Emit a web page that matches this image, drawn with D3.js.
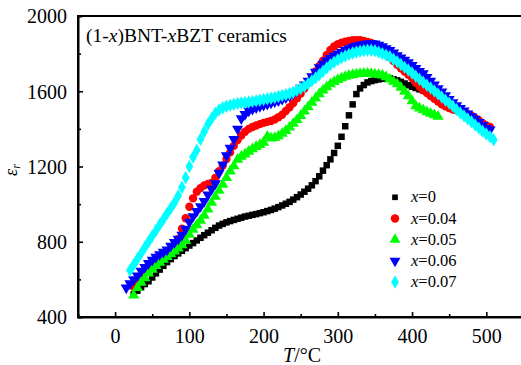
<!DOCTYPE html>
<html><head><meta charset="utf-8">
<script src="https://cdn.jsdelivr.net/npm/d3@7"></script>
<style>
html,body{margin:0;padding:0;background:#fff;}
svg{display:block;}
svg text{font-family:"Liberation Serif","Times New Roman",Tinos,Times,"DejaVu Serif","Noto Serif",serif;}
</style></head>
<body>
<svg id="chart" width="521" height="365"></svg>
<script>
const temps = [15,20,25,30,35,40,45,50,55,60,65,70,75,80,85,90,95,100,105,110,115,120,125,130,135,140,145,150,155,160,165,170,175,180,185,190,195,200,205,210,215,220,225,230,235,240,245,250,255,260,265,270,275,280,285,290,295,300,305,310,315,320,325,330,335,340,345,350,355,360,365,370,375,380,385,390,395,400,405,410,415,420,425,430,435,440,445,450,455,460,465,470,475,480,485,490,495,500,505,510];

const eps_x0 = [null,null,520,540,558,575,590,610,632,652,672,692,708,724,738,752,766,780,793,807,821,835,848,861,874,886,895,903,910,916,922,928,934,938,943,947,952,957,963,969,976,984,993,1002,1012,1024,1037,1051,1066,1082,1100,1122,1148,1178,1207,1238,1272,1310,1358,1414,1472,1530,1585,1615,1633,1647,1654,1659,1663,1667,1670,1668,1664,1658,1650,1641,1632,1624,1617,1610,1604,1598,null,null,null,null,null,null,null,null,null,null,null,null,null,null,null,null,null,null];

const eps_x004 = [null,null,560,590,618,648,674,695,710,722,734,745,760,783,815,870,925,986,1031,1066,1085,1100,1108,1113,1140,1175,1205,1240,1275,1310,1340,1365,1385,1400,1410,1418,1425,1432,1437,1442,1450,1462,1475,1495,1515,1537,1562,1588,1614,1643,1672,1705,1735,1763,1793,1820,1838,1850,1858,1864,1868,1871,1872,1871,1868,1863,1857,1849,1838,1825,1806,1782,1760,1740,1722,1705,1688,1670,1645,1625,1605,1590,1575,1560,1545,1530,1520,1510,1503,1498,1494,1490,1480,1470,1458,1445,1430,1418,1410,null];

const eps_x005 = [null,null,515,555,583,607,632,653,672,689,705,720,735,750,765,783,805,838,865,889,913,940,973,1008,1040,1072,1104,1140,1175,1203,1237,1253,1265,1280,1293,1305,1316,1328,1360,1350,1353,1362,1375,1390,1408,1428,1448,1470,1494,1517,1540,1563,1585,1605,1623,1638,1651,1661,1670,1678,1684,1688,1691,1693,1694,1694,1693,1690,1688,1685,1676,1664,1652,1638,1620,1598,1575,1548,1522,1510,1500,1490,1482,1474,1466,null,null,null,null,null,null,null,null,null,null,null,null,null,null,null];

const eps_x006 = [555,578,600,620,645,665,686,703,719,733,745,757,778,797,815,836,868,905,935,962,988,1015,1050,1080,1110,1165,1210,1258,1298,1345,1400,1455,1478,1496,1505,1513,1520,1526,1532,1538,1545,1551,1558,1566,1576,1588,1602,1617,1635,1655,1678,1703,1726,1745,1762,1776,1788,1798,1808,1818,1828,1836,1842,1846,1850,1852,1854,1852,1846,1838,1828,1818,1805,1790,1778,1766,1753,1738,1722,1707,1694,1675,1655,1635,1615,1597,1578,1558,1540,1524,1510,1497,1480,1466,1452,1436,1420,1404,1395,null];

const eps_x007 = [null,648,678,708,738,770,800,830,860,890,920,950,978,1008,1045,1090,1140,1200,1250,1287,1345,1385,1425,1455,1483,1500,1512,1520,1526,1531,1535,1538,1540,1543,1546,1549,1552,1556,1560,1563,1567,1572,1577,1582,1588,1595,1605,1615,1627,1640,1655,1671,1688,1706,1724,1741,1755,1767,1778,1787,1796,1803,1809,1813,1816,1818,1818,1815,1808,1800,1792,1783,1770,1757,1742,1727,1713,1697,1680,1664,1648,1632,1617,1601,1586,1569,1552,1537,1520,1502,1484,1468,1453,1438,1421,1404,1388,1373,1358,1342];

const seriesLabels = ["0","0.04","0.05","0.06","0.07"];
const seriesColors = ["#000000","#ff0000","#00ff00","#0000ff","#00ffff"];
const xTicks = [0,100,200,300,400,500];
const yTicks = [400,800,1200,1600,2000];

const allSeries = [eps_x0, eps_x004, eps_x005, eps_x006, eps_x007];

const svg = d3.select("#chart");
const pLeft = 78, pRight = 523.4, pTop = 16, pBottom = 317;
const x = d3.scaleLinear().domain([-50,550]).range([pLeft,pRight]);
const y = d3.scaleLinear().domain([400,2000]).range([pBottom,pTop]);

const symbolTypes = [d3.symbolSquare,d3.symbolCircle,d3.symbolTriangle,d3.symbolTriangle,d3.symbolDiamond];
const symbolSizes = [42,54,54,54,52];
const rot = [0,0,0,180,0];

// data
allSeries.forEach((vals,i)=>{
  const pts = temps.map((t,j)=>({t, v: vals[j]})).filter(d=>d.v!=null);
  const sym = d3.symbol().type(symbolTypes[i]).size(symbolSizes[i]);
  svg.append("g").selectAll("path").data(pts).join("path")
    .attr("d", sym())
    .attr("fill", seriesColors[i])
    .attr("transform", d=>`translate(${x(d.t)},${y(d.v)}) rotate(${rot[i]})`);
});

// top frame
svg.append("line").attr("x1",pLeft).attr("x2",pRight+2).attr("y1",pTop).attr("y2",pTop).attr("stroke","#000").attr("stroke-width",2);

// axes with inward ticks
const xAxis = d3.axisBottom(x).tickValues(xTicks).tickSize(-5).tickPadding(12).tickFormat(d3.format("d"));
const gx = svg.append("g").attr("transform",`translate(0,${pBottom})`).call(xAxis);
const xMinor = d3.axisBottom(x).tickValues([50,150,250,350,450]).tickSize(-3).tickFormat("");
const gxm = svg.append("g").attr("transform",`translate(0,${pBottom})`).call(xMinor);
const yAxis = d3.axisLeft(y).tickValues(yTicks).tickSize(-5).tickPadding(11).tickFormat(d3.format("d"));
const gy = svg.append("g").attr("transform",`translate(${pLeft},0)`).call(yAxis);
const yMinor = d3.axisLeft(y).tickValues([600,1000,1400,1800]).tickSize(-3).tickFormat("");
const gym = svg.append("g").attr("transform",`translate(${pLeft},0)`).call(yMinor);
[gx,gxm,gy,gym].forEach(g=>{
  g.attr("font-family",null);
  g.select(".domain").attr("stroke","#000").attr("stroke-width",2);
  g.selectAll(".tick line").attr("stroke","#000").attr("stroke-width",1.6);
  g.selectAll("text").attr("font-size",20).attr("fill","#000");
});
gx.select(".domain").attr("d",`M${pLeft-1},0H${pRight+2}`);
gy.select(".domain").attr("d",`M0,${pBottom+1}V${pTop-1}`);
gy.selectAll(".tick text").attr("dy","0.34em");

// title
const title = svg.append("text").attr("x",86).attr("y",42).attr("font-size",19.5).attr("fill","#000");
title.append("tspan").text("(1-");
title.append("tspan").attr("font-style","italic").text("x");
title.append("tspan").text(")BNT-");
title.append("tspan").attr("font-style","italic").text("x");
title.append("tspan").text("BZT ceramics");

// axis titles
const xt = svg.append("text").attr("x",283).attr("y",362).attr("font-size",20).attr("fill","#000");
xt.append("tspan").attr("font-style","italic").text("T");
xt.append("tspan").text("/°C");

const yt = svg.append("text").attr("transform","translate(17,170) rotate(-90)").attr("font-size",18).attr("fill","#000").attr("text-anchor","middle");
yt.append("tspan").attr("font-style","italic").text("ε");
yt.append("tspan").attr("font-style","italic").attr("font-size",12).attr("dy",3).text("r");

// legend
const legY0 = 197.3, legDy = 21.2;
seriesLabels.forEach((lab,i)=>{
  const cy = legY0 + i*legDy;
  svg.append("path").attr("d", d3.symbol().type(symbolTypes[i]).size([32,56,52,52,52][i])())
    .attr("fill", seriesColors[i]).attr("transform",`translate(395,${cy}) rotate(${rot[i]})`);
  const t = svg.append("text").attr("x",411).attr("y",cy+5).attr("font-size",16.5).attr("fill","#000");
  t.append("tspan").attr("font-style","italic").text("x");
  t.append("tspan").text("="+lab);
});
</script>
</body></html>
